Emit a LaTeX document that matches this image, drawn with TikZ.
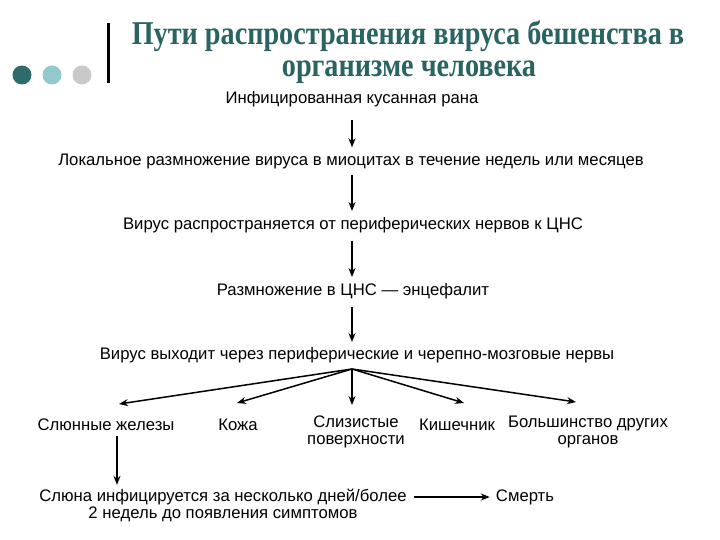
\documentclass[tikz,border=0pt]{standalone}
\usepackage{fontspec}
\setmainfont{Liberation Sans}
\newfontfamily\titlefont{Liberation Serif}
\usetikzlibrary{arrows.meta}
\definecolor{titlecol}{HTML}{2A6461}
\definecolor{dotA}{HTML}{2E6B6A}
\definecolor{dotB}{HTML}{92C9CC}
\definecolor{dotC}{HTML}{C9C9C9}
\tikzset{
  lbl/.style={inner sep=0pt, font=\fontsize{16.7}{17}\selectfont, text=black},
  ttl/.style={inner sep=0pt, anchor=base, font=\titlefont\bfseries\fontsize{28.2}{30}\selectfont, text=titlecol},
  arr/.style={line width=1.5pt, -{Stealth[length=9pt,width=7pt]}},
  dot/.style={circle, inner sep=0pt, minimum size=19pt}
}
\begin{document}
\begin{tikzpicture}[x=1pt,y=-1pt]
\useasboundingbox (0,0) rectangle (720,540);
% header
\node[dot, fill=dotA] (d1) at (22,75) {};
\node[dot, fill=dotB] (d2) at (52,75) {};
\node[dot, fill=dotC] (d3) at (82,75) {};
\draw[line width=3pt] (108,23) -- (108,83);
\node[ttl] (t1) at (408,45) {\scalebox{1}[1.18]{Пути распространения вируса бешенства в}};
\node[ttl] (t2) at (409,77) {\scalebox{1}[1.18]{организме человека}};
% chain
\coordinate (ax) at (352,0);
\node[lbl] (n1) at (352,99) {Инфицированная кусанная рана};
\node[lbl] (n2) at (351,161) {Локальное размножение вируса в миоцитах в течение недель или месяцев};
\node[lbl] (n3) at (353,225) {Вирус распространяется от периферических нервов к ЦНС};
\node[lbl] (n4) at (353,291) {Размножение в ЦНС — энцефалит};
\node[lbl] (n5) at (357,355) {Вирус выходит через периферические и черепно-мозговые нервы};
\coordinate (br) at (352,369);
\node[lbl] (o1) at (106,425) {Слюнные железы};
\node[lbl] (o2) at (238,425) {Кожа};
\node[lbl, align=center] (o3) at (356,432) {Слизистые\\поверхности};
\node[lbl] (o4) at (457,425) {Кишечник};
\node[lbl, align=center] (o5) at (588,432) {Большинство других\\органов};
\node[lbl] (b1) at (223,497) {Слюна инфицируется за несколько дней/более};
\node[lbl] (b2) at (223,514) {2 недель до появления симптомов};
\node[lbl] (dd) at (525,497) {Смерть};
\coordinate (ax2) at (117,0);
% arrows
\draw[arr] ([yshift=-13pt]n1.south -| ax) -- ([yshift=6pt]n2.north -| ax);
\draw[arr] ([yshift=-6pt]n2.south -| ax) -- ([yshift=6pt]n3.north -| ax);
\draw[arr] ([yshift=-8pt]n3.south -| ax) -- ([yshift=6pt]n4.north -| ax);
\draw[arr] ([yshift=-8pt]n4.south -| ax) -- ([yshift=5pt]n5.north -| ax);
\draw[arr] (br) -- (119,404);
\draw[arr] (br) -- (237,403);
\draw[arr] (br) -- (352,405);
\draw[arr] (br) -- (464,403);
\draw[arr] (br) -- (576,402);
\draw[arr] ([yshift=-5pt]o1.south -| ax2) -- ([yshift=4pt]b1.north -| ax2);
\draw[arr] ([xshift=7pt]b1.east) -- ([xshift=-6pt]dd.west);
\end{tikzpicture}
\end{document}
